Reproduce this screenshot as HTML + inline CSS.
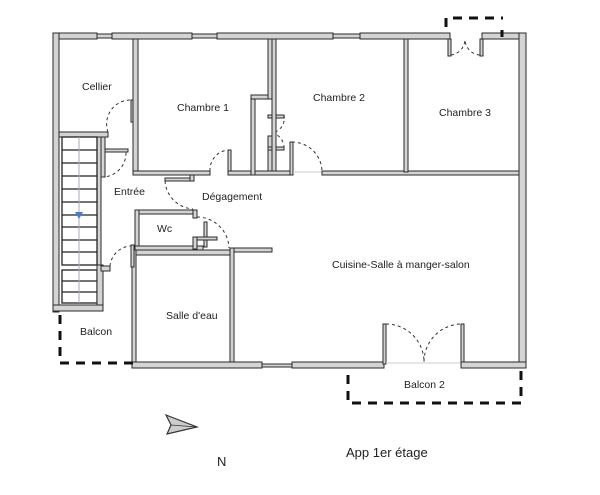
<!DOCTYPE html>
<html><head><meta charset="utf-8"><style>
html,body{margin:0;padding:0;background:#fff;width:600px;height:495px;overflow:hidden}
svg{display:block}
text{font-family:"Liberation Sans",sans-serif;fill:#222}
.w{fill:#d4d4d4;stroke:#2a2a2a;stroke-width:1}
.d{stroke:#111;stroke-width:3;stroke-dasharray:9 7;fill:none}
.a{stroke:#333;stroke-width:1;stroke-dasharray:3 3;fill:none}
.l{stroke:#ccc;stroke-width:1;fill:none}
</style></head><body>
<svg width="600" height="495" viewBox="0 0 600 495">
<rect class="w" x="53" y="33" width="44" height="6"/>
<rect class="w" x="112" y="33" width="80" height="6"/>
<rect class="w" x="217" y="33" width="116" height="6"/>
<rect class="w" x="360" y="33" width="90" height="6"/>
<rect class="w" x="482" y="33" width="44" height="6"/>
<rect class="w" x="97" y="34" width="15" height="4" fill="#fff" stroke="#333"/>
<rect class="w" x="192" y="34" width="25" height="4" fill="#fff" stroke="#333"/>
<rect class="w" x="333" y="34" width="27" height="4" fill="#fff" stroke="#333"/>
<rect class="w" x="519" y="33" width="7" height="335"/>
<rect class="w" x="53" y="33" width="6" height="279"/>
<rect class="w" x="53" y="305" width="50" height="6"/>
<rect class="w" x="97" y="137" width="4" height="168"/>
<rect class="w" x="59" y="132" width="49" height="5"/>
<g stroke="#222" stroke-width="1.3">
<rect x="62" y="137" width="35" height="128" fill="none"/>
<line x1="62" y1="150" x2="97" y2="150"/><line x1="62" y1="163" x2="97" y2="163"/>
<line x1="62" y1="176" x2="97" y2="176"/><line x1="62" y1="189" x2="97" y2="189"/>
<line x1="62" y1="202" x2="97" y2="202"/><line x1="62" y1="215" x2="97" y2="215"/>
<line x1="62" y1="227" x2="97" y2="227"/><line x1="62" y1="240" x2="97" y2="240"/>
<line x1="62" y1="252" x2="97" y2="252"/>
<rect x="62" y="270" width="35" height="33" fill="none"/>
<line x1="62" y1="281" x2="97" y2="281"/><line x1="62" y1="292" x2="97" y2="292"/>
</g>
<line x1="79" y1="137" x2="79" y2="303" stroke="#aab" stroke-width="1"/>
<polygon points="75,212 83,212 79,219" fill="#4a7bd0"/>
<rect class="w" x="97" y="265" width="6" height="40"/>
<rect class="w" x="101" y="266" width="9" height="5"/>
<rect class="w" x="131" y="100" width="3" height="22"/>
<path class="a" d="M108 132 A24 24 0 0 1 132 100"/>
<rect class="w" x="133" y="39" width="5" height="136"/>
<rect class="w" x="101" y="137" width="4" height="40"/>
<rect class="w" x="105" y="149" width="23" height="3"/>
<path class="a" d="M101 177 A24 24 0 0 0 126 152"/>
<rect class="w" x="133" y="171" width="77" height="4"/>
<rect class="w" x="228" y="150" width="3" height="25"/>
<path class="a" d="M210 171 A20 20 0 0 1 228 150"/>
<rect class="w" x="228" y="171" width="23" height="4"/>
<rect class="w" x="251" y="97" width="4" height="78"/>
<rect class="w" x="251" y="95" width="20" height="4"/>
<rect class="w" x="268" y="39" width="4" height="60"/>
<rect class="w" x="268" y="136" width="4" height="39"/>
<rect class="w" x="268" y="115" width="16" height="3"/>
<rect class="w" x="268" y="147" width="16" height="3"/>
<path class="a" d="M284 115 A15 15 0 0 1 272 133 A15 15 0 0 1 284 148"/>
<rect class="w" x="272" y="39" width="4" height="136"/>
<rect class="w" x="255" y="171" width="37" height="4"/>
<rect class="w" x="290" y="142" width="3" height="33"/>
<path class="a" d="M292 142 A30 30 0 0 1 322 172"/>
<line class="l" x1="293" y1="172" x2="322" y2="172"/>
<rect class="w" x="322" y="171" width="197" height="4"/>
<rect class="w" x="404" y="39" width="4" height="133"/>
<rect class="w" x="448" y="39" width="3" height="17"/>
<rect class="w" x="480" y="39" width="3" height="17"/>
<path class="a" d="M451 55 A16 16 0 0 0 465 40 A16 16 0 0 0 480 55"/>
<path class="d" d="M446 27 V18 H503 M502 30 V37"/>
<rect class="w" x="165" y="178" width="28" height="3"/>
<rect class="w" x="190" y="175" width="4" height="6"/>
<path class="a" d="M165 181 A30 30 0 0 0 193 209"/>
<rect class="w" x="135" y="210" width="60" height="4"/>
<rect class="w" x="193" y="210" width="4" height="8"/>
<rect class="w" x="135" y="210" width="4" height="45"/>
<rect class="w" x="135" y="246" width="68" height="5"/>
<rect class="w" x="193" y="237" width="4" height="12"/>
<rect class="w" x="204" y="222" width="3" height="25"/>
<rect class="w" x="197" y="237" width="20" height="3"/>
<path class="a" d="M197 217 A32 32 0 0 1 229 248"/>
<rect class="w" x="132" y="250" width="4" height="118"/>
<rect class="w" x="136" y="250" width="95" height="5"/>
<rect class="w" x="131" y="245" width="3" height="22"/>
<path class="a" d="M110 266 A22 22 0 0 1 131 246"/>
<rect class="w" x="230" y="248" width="4" height="117"/>
<rect class="w" x="234" y="248" width="38" height="4"/>
<rect class="w" x="132" y="362" width="130" height="6"/>
<rect class="w" x="262" y="364" width="30" height="3" fill="#fff"/>
<rect class="w" x="292" y="362" width="92" height="6"/>
<rect class="w" x="383" y="324" width="3" height="40"/>
<rect class="w" x="461" y="324" width="3" height="40"/>
<line class="l" x1="386" y1="363" x2="461" y2="363"/>
<path class="a" d="M386 324 A38 38 0 0 1 424 362 A38 38 0 0 1 461 324"/>
<rect class="w" x="461" y="362" width="65" height="6"/>
<path class="d" d="M60 315 V363 H135"/>
<path class="d" d="M348 375 V403 H521 V365"/>
<g font-size="10.5">
<text x="82" y="90">Cellier</text>
<text x="177" y="111">Chambre 1</text>
<text x="313" y="101">Chambre 2</text>
<text x="439" y="116">Chambre 3</text>
<text x="114" y="195">Entrée</text>
<text x="202" y="200">Dégagement</text>
<text x="157" y="232">Wc</text>
<text x="332" y="268">Cuisine-Salle à manger-salon</text>
<text x="166" y="319">Salle d'eau</text>
<text x="80" y="335">Balcon</text>
<text x="404" y="388">Balcon 2</text>
</g>
<polygon points="166,415 197,427 167,434 171,425" fill="#ccc" stroke="#333" stroke-width="1.2"/>
<line x1="171" y1="425" x2="197" y2="427" stroke="#333" stroke-width="0.8"/>
<text x="217" y="466" font-size="13">N</text>
<text x="346" y="457" font-size="13">App 1er étage</text>
</svg>
</body></html>
